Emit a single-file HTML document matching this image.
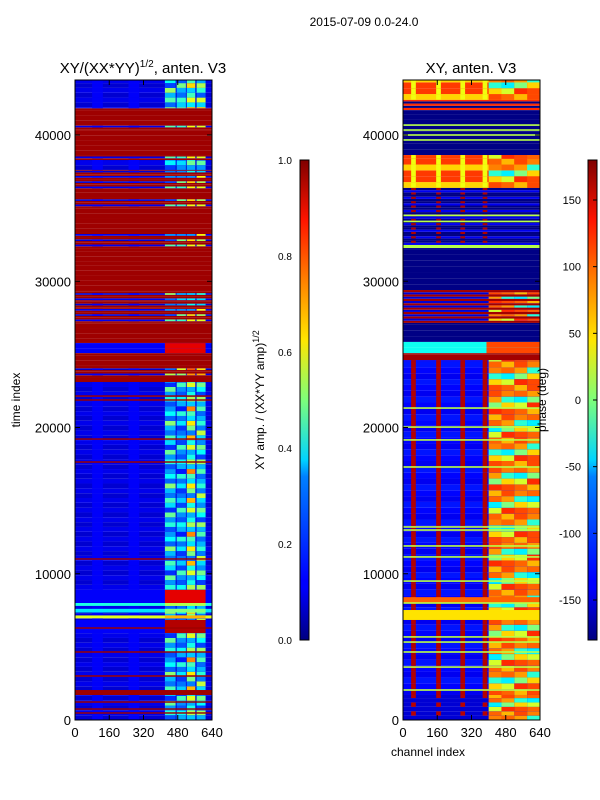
<!DOCTYPE html>
<html><head><meta charset="utf-8">
<style>
html,body{margin:0;padding:0;background:#fff;}
svg{display:block;font-family:"Liberation Sans",sans-serif;}
</style></head>
<body>
<svg id="fig" width="600" height="800" viewBox="0 0 600 800" xmlns="http://www.w3.org/2000/svg">
  <defs>
    <linearGradient id="jet" x1="0" y1="1" x2="0" y2="0">
      <stop offset="0" stop-color="#000080"/>
      <stop offset="0.11" stop-color="#0000ff"/>
      <stop offset="0.125" stop-color="#0000ff"/>
      <stop offset="0.34" stop-color="#0080ff"/>
      <stop offset="0.375" stop-color="#00d4ff"/>
      <stop offset="0.5" stop-color="#7dff7a"/>
      <stop offset="0.625" stop-color="#ffe600"/>
      <stop offset="0.75" stop-color="#ff8000"/>
      <stop offset="0.875" stop-color="#ff1400"/>
      <stop offset="1" stop-color="#800000"/>
    </linearGradient>
  </defs>
  <rect x="0" y="0" width="600" height="800" fill="#fff"/>
  <text x="364" y="26" font-size="12" text-anchor="middle">2015-07-09 0.0-24.0</text>
  <text x="143" y="73" font-size="15" text-anchor="middle">XY/(XX*YY)<tspan font-size="10" dy="-6">1/2</tspan><tspan dy="6">, anten. V3</tspan></text>
  <text x="471" y="73" font-size="15" text-anchor="middle">XY, anten. V3</text>
  <g id="leftHeat"></g>
  <g id="rightHeat"></g>
  <g id="axes"></g>
  <text transform="translate(20,400) rotate(-90)" font-size="12" text-anchor="middle">time index</text>
  <text x="428" y="756" font-size="12" text-anchor="middle">channel index</text>
  <rect x="300" y="160" width="9" height="480" fill="url(#jet)" stroke="#000" stroke-width="1"/>
  <rect x="588" y="160" width="9" height="480" fill="url(#jet)" stroke="#000" stroke-width="1"/>
  <text transform="translate(264,400) rotate(-90)" font-size="12" text-anchor="middle">XY amp. / (XX*YY amp)<tspan font-size="9" dy="-5">1/2</tspan></text>
  <text transform="translate(546,400) rotate(-90)" font-size="12" text-anchor="middle">phase (deg)</text>
  <g id="cbar"></g>
</svg>
<script>
// ---------- data ----------
const yTicks = [0, 10000, 20000, 30000, 40000];
const xTicks = [0, 160, 320, 480, 640];
const ampTicks = [0.0, 0.2, 0.4, 0.6, 0.8, 1.0];
const phaseTicks = [-150, -100, -50, 0, 50, 100, 150];

// Left panel (amplitude ratio) bands
const leftBandTop    = [43760, 41900, 41710, 40680, 40400, 38630, 38290, 37610, 36240, 35760, 35010, 33300, 32270, 29400, 27150, 25780, 25080, 24270, 23450, 23110];
const leftBandBottom = [41900, 41710, 40680, 40400, 38630, 38290, 37610, 36240, 35760, 35010, 33300, 32270, 29400, 27150, 25780, 25080, 24270, 23450, 23110, 0];
const leftBandKind   = ['B','L','R','L','R','L','B','L','R','L','R','L','R','L','R','H','R','L','R','B'];
const leftBandLevel  = [0.5, 0.55, 1, 0.5, 1, 0.5, 0.4, 0.5, 1, 0.5, 1, 0.5, 1, 0.5, 1, 0.9, 1, 0.6, 1, 0.45];
const leftHiMean = [0.38, 0.33, 0.55, 0.42];
const leftRowPattern = [0.6, 1.2, 0.8, 1.4, 0.5, 1.0, 1.3, 0.7, 0.9, 1.5, 0.65, 1.1, 0.8];
const leftRedLines = [22150, 21880, 19210, 17640, 11010, 6290, 4650, 3010, 1230, 750, 480];
const leftThickRedTop = [2050];
const leftThickRedBottom = [1710];
const leftFeatureTop = [8900, 8000, 7600, 7150, 6840];
const leftFeatureBottom = [8000, 7800, 7350, 6950, 5950];
const leftFeatureLo = [0.12, 0.40, 0.35, 0.60, 0.12];
const leftFeatureHi = [0.90, 0.55, 0.50, 0.70, 0.95];

// Right panel (phase, deg) bands
const rightBandTop    = [43760, 42400, 41700, 38630, 36380, 32480, 32270, 29400, 27150, 25850, 25080, 24610];
const rightBandBottom = [42400, 41700, 38630, 36380, 32480, 32270, 29400, 27150, 25850, 25080, 24610, 1710];
const rightBandKind   = ['O','L','N','O','D','G','N','M','N','C','R','K'];
const rightHiPhase = [110, 60, -30, 90, 100, 30, -50, 100, 70, 120, 0, 80, 110];
const rightStripeStart = [38, 155, 268, 372];
const rightGreenLines = [40680, 40340, 40000, 39660, 34500, 34090, 21330, 20030, 19150, 17300, 13200, 12990, 11900, 11150, 9500, 8000, 5680, 5330, 4650, 3620, 2050];
const rightYellowTop = [8400, 7520];
const rightYellowBottom = [8000, 6840];
const rightYellowPhase = [100, 55];

// ---------- helpers ----------
const NS = 'http://www.w3.org/2000/svg';
function yS(t){ return 720 - t * 0.014625; }
function xL(c){ return 75 + c / 640 * 137; }
function xR(c){ return 403 + c / 640 * 137; }
function cl(v){ return Math.max(0, Math.min(1, v)); }
function jet(v){
  v = cl(v);
  const r = cl(1.5 - Math.abs(4*v - 3)), g = cl(1.5 - Math.abs(4*v - 2)), b = cl(1.5 - Math.abs(4*v - 1));
  return 'rgb(' + Math.round(r*255) + ',' + Math.round(g*255) + ',' + Math.round(b*255) + ')';
}
function ph(p){ return (p + 180) / 360; }
function cell(g, xs, c0, c1, t0, t1, v, name){
  const r = document.createElementNS(NS, 'rect');
  const x0 = xs(c0), x1 = xs(c1), ya = yS(t1), yb = yS(t0);
  r.setAttribute('x', x0.toFixed(2));
  r.setAttribute('y', ya.toFixed(2));
  r.setAttribute('width', Math.max(0.3, x1 - x0).toFixed(2));
  r.setAttribute('height', Math.max(0.5, yb - ya).toFixed(2));
  r.setAttribute('fill', jet(v));
  
  
  g.appendChild(r);
}

// ---------- left heatmap ----------
const LG = document.getElementById('leftHeat');
const gS = [420, 475, 522, 568], gE = [470, 518, 562, 610];
function leftMottled(t0, t1, row, lvl){
  cell(LG, xL, 0, 640, t0, t1, 0.08 + 0.025 * (row % 2), 'amp-cell');
  cell(LG, xL, 80, 130, t0, t1, 0.12, 'amp-cell');
  cell(LG, xL, 250, 300, t0, t1, 0.12, 'amp-cell');
  for (let g = 0; g < 4; g++){
    const v = leftHiMean[g] * leftRowPattern[(row + g * 5) % leftRowPattern.length] * lvl / 0.5;
    cell(LG, xL, gS[g], gE[g], t0, t1, v, 'amp-cell');
  }
}
for (let i = 0; i < leftBandTop.length; i++){
  const top = leftBandTop[i], bot = leftBandBottom[i], k = leftBandKind[i], lvl = leftBandLevel[i];
  const sub = k === 'L' ? 120 : 330;
  let row = 0;
  for (let t = bot; t < top; t += sub, row++){
    const t1 = Math.min(top, t + sub);
    if (k === 'R') cell(LG, xL, 0, 640, t, t1, 0.97, 'amp-cell');
    else if (k === 'L'){ if (row % 3 !== 1) cell(LG, xL, 0, 640, t, t1, 0.97, 'amp-cell'); else leftMottled(t, t1, row, lvl); }
    else if (k === 'H'){ cell(LG, xL, 0, 640, t, t1, 0.12, 'amp-cell'); cell(LG, xL, 420, 610, t, t1, lvl, 'amp-cell'); }
    else leftMottled(t, t1, row, lvl);
  }
}
for (let i = 0; i < leftFeatureTop.length; i++){
  cell(LG, xL, 0, 640, leftFeatureBottom[i], leftFeatureTop[i], leftFeatureLo[i], 'amp-feature');
  cell(LG, xL, 420, 610, leftFeatureBottom[i], leftFeatureTop[i], leftFeatureHi[i], 'amp-feature');
}
for (let i = 0; i < leftRedLines.length; i++) cell(LG, xL, 0, 640, leftRedLines[i] - 50, leftRedLines[i] + 50, 0.97, 'amp-red-line');
for (let i = 0; i < leftThickRedTop.length; i++) cell(LG, xL, 0, 640, leftThickRedBottom[i], leftThickRedTop[i], 0.97, 'amp-red-band');

// ---------- right heatmap ----------
const RG = document.getElementById('rightHeat');
const rS = [400, 460, 520, 580], rE = [460, 520, 580, 640];
function stripes(t0, t1, p){ for (let s = 0; s < rightStripeStart.length; s++) cell(RG, xR, rightStripeStart[s], rightStripeStart[s] + 22, t0, t1, ph(p), 'phase-stripe'); }
function hiMix(t0, t1, row){ for (let g = 0; g < 4; g++) cell(RG, xR, rS[g], rE[g], t0, t1, ph(rightHiPhase[(row + g * 4) % rightHiPhase.length]), 'phase-cell'); }
for (let i = 0; i < rightBandTop.length; i++){
  const top = rightBandTop[i], bot = rightBandBottom[i], k = rightBandKind[i];
  const sub = (k === 'L' || k === 'M' || k === 'D') ? 150 : 400;
  let row = 0;
  for (let t = bot; t < top; t += sub, row++){
    const t1 = Math.min(top, t + sub);
    if (k === 'N') cell(RG, xR, 0, 640, t, t1, ph(-178), 'phase-cell');
    else if (k === 'G') cell(RG, xR, 0, 640, t, t1, ph(20), 'phase-cell');
    else if (k === 'R') cell(RG, xR, 0, 640, t, t1, ph(168), 'phase-cell');
    else if (k === 'O'){ cell(RG, xR, 0, 640, t, t1, ph(row % 3 === 0 ? 60 : 115), 'phase-cell'); stripes(t, t1, 40); hiMix(t, t1, row); }
    else if (k === 'L'){ cell(RG, xR, 0, 640, t, t1, ph(row % 2 ? -178 : 120), 'phase-cell'); }
    else if (k === 'D'){ cell(RG, xR, 0, 640, t, t1, ph(row % 3 === 0 ? -140 : -178), 'phase-cell'); if (row % 2) stripes(t, t1, 165); }
    else if (k === 'M'){ cell(RG, xR, 0, 640, t, t1, ph(row % 2 ? -150 : 168), 'phase-cell'); if (row % 2) hiMix(t, t1, row); }
    else if (k === 'C'){ cell(RG, xR, 0, 640, t, t1, ph(-40), 'phase-cell'); cell(RG, xR, 390, 640, t, t1, ph(110), 'phase-cell'); }
    else if (k === 'K'){
      cell(RG, xR, 0, 640, t, t1, ph(-140 + 6 * (row % 3)), 'phase-cell');
      stripes(t, t1, 162);
      hiMix(t, t1, row);
    }
  }
}
{
  let row = 0;
  for (let t = 0; t < 1710; t += 300, row++){
    const t1 = Math.min(1710, t + 300);
    cell(RG, xR, 0, 640, t, t1, ph(-150), 'phase-cell');
    if (row % 2) stripes(t, t1, 160);
    hiMix(t, t1, row + 3);
  }
}
for (let i = 0; i < rightYellowTop.length; i++) cell(RG, xR, 0, 640, rightYellowBottom[i], rightYellowTop[i], ph(rightYellowPhase[i]), 'phase-yellow-band');
for (let i = 0; i < rightGreenLines.length; i++) cell(RG, xR, 0, 640, rightGreenLines[i] - 55, rightGreenLines[i] + 55, ph(20), 'phase-green-line');

// ---------- axes ----------
const AX = document.getElementById('axes');
function line(x1, y1, x2, y2, name){
  const l = document.createElementNS(NS, 'line');
  l.setAttribute('x1', x1); l.setAttribute('y1', y1); l.setAttribute('x2', x2); l.setAttribute('y2', y2);
  l.setAttribute('stroke', '#000'); l.setAttribute('stroke-width', '1');
  
  
  AX.appendChild(l);
}
function txt(parent, x, y, s, anchor, size, name){
  const t = document.createElementNS(NS, 'text');
  t.setAttribute('x', x); t.setAttribute('y', y); t.setAttribute('font-size', size);
  t.setAttribute('text-anchor', anchor); t.textContent = s;
  
  
  parent.appendChild(t);
}
[[75, xL], [403, xR]].forEach(function(p, idx){
  const x0 = p[0], xs = p[1];
  const fr = document.createElementNS(NS, 'rect');
  fr.setAttribute('x', x0); fr.setAttribute('y', 80); fr.setAttribute('width', 137); fr.setAttribute('height', 640);
  fr.setAttribute('fill', 'none'); fr.setAttribute('stroke', '#000');
  
  
  AX.appendChild(fr);
  yTicks.forEach(function(v){
    const y = yS(v);
    line(x0, y, x0 + 5, y, 'y-tick');
    line(x0 + 137, y, x0 + 132, y, 'y-tick');
    txt(AX, x0 - 4, y + 5, String(v), 'end', 13, 'y-tick-label');
  });
  xTicks.forEach(function(v){
    const x = xs(v);
    line(x, 720, x, 715, 'x-tick');
    line(x, 80, x, 85, 'x-tick');
    txt(AX, x, 737, String(v), 'middle', 13, 'x-tick-label');
  });
});
const CB = document.getElementById('cbar');
ampTicks.forEach(function(v){
  const y = 640 - v * 480;
  txt(CB, 278, y + 4, v.toFixed(1), 'start', 10, 'amp-colorbar-tick');
});
phaseTicks.forEach(function(v){
  const y = 400 - v * 480 / 360;
  const l = document.createElementNS(NS, 'line');
  l.setAttribute('x1', 597); l.setAttribute('x2', 593); l.setAttribute('y1', y); l.setAttribute('y2', y);
  l.setAttribute('stroke', '#000');
  
  
  CB.appendChild(l);
  txt(CB, 581, y + 4, String(v), 'end', 11, 'phase-colorbar-tick');
});
</script>
</body></html>
